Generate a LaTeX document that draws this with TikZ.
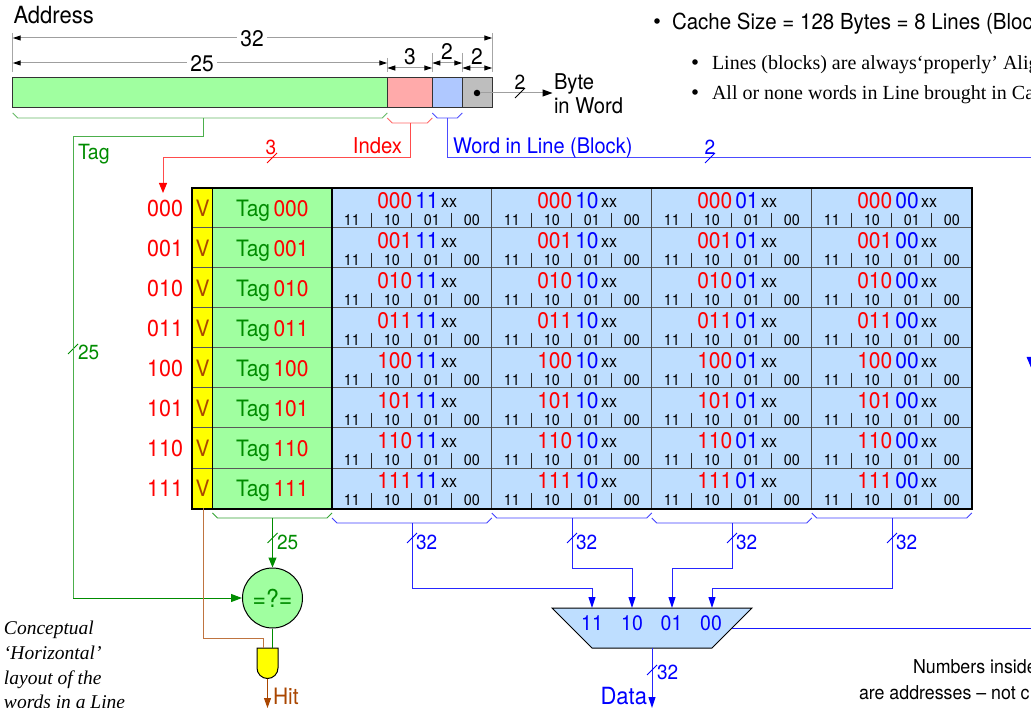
\documentclass[tikz,border=0pt]{standalone}
\usepackage{fontspec}
\setmainfont[FakeStretch=0.93]{TeX Gyre Heros}
\newfontfamily\timesf{Liberation Serif}
\usetikzlibrary{arrows.meta,calc}
\definecolor{cgreen}{RGB}{0,140,0}
\definecolor{cbrown}{RGB}{170,70,0}
\definecolor{fgreen}{RGB}{160,255,160}
\definecolor{fred}{RGB}{255,170,170}
\definecolor{fblue}{RGB}{175,200,255}
\definecolor{fcell}{RGB}{190,222,255}
\definecolor{fgray}{RGB}{190,190,190}
\definecolor{fyell}{RGB}{255,255,0}
\newcommand{\fs}[1]{\pgfmathsetmacro{\fsz}{#1*1.075}\fontsize{\fsz}{\fsz}\selectfont}
\newcommand{\ft}[1]{\fontsize{#1}{#1}\selectfont}
\tikzset{
  txt/.style={inner sep=0pt,outer sep=0pt,anchor=base west,yshift=-0.7pt},
  txtc/.style={inner sep=0pt,outer sep=0pt,anchor=base,yshift=-0.7pt},
  wire/.style={line width=1pt},
  dimln/.style={line width=1pt,draw=gray!75},
  dimarr/.style={dimln,{Triangle[length=8pt,width=5pt,color=black]}-{Triangle[length=8pt,width=5pt,color=black]}},
  ext/.style={line width=.9pt,draw=gray!70},
  field/.style={draw=black!80,line width=.9pt},
  brc/.style={line width=.9pt,line join=miter},
  bl/.style={wire,draw=blue!85,-{Triangle[length=11pt,width=7pt,color=blue]}},
}
\newcommand{\slashmark}[3]{\draw[line width=.8pt,#3] ($(#1,#2)+(-5,5)$) -- ($(#1,#2)+(5,-5)$);}
\newcommand{\bracepath}[5]{\draw[brc,#5] (#1,#3) -- (#1+5,#4) -- (#2-5,#4) -- (#2,#3);}
\begin{document}
\begin{tikzpicture}[x=1pt,y=-1pt]
\useasboundingbox (0,0) rectangle (1031,708);
\clip (0,0) rectangle (1031,708);
\fill[white] (0,0) rectangle (1031,708);

% ---------- address bar
\node[txt,font=\fs{22}] (addr) at (13.5,23) {Address};
\draw[field,fill=fgreen] (12.7,77.8) rectangle (387.3,107.6);
\draw[field,fill=fred]   (387.3,77.8) rectangle (432.3,107.6);
\draw[field,fill=fblue]  (432.3,77.8) rectangle (462.3,107.6);
\draw[field,fill=fgray]  (462.3,77.8) rectangle (492.3,107.6);
\coordinate (tagtop) at (203,118);
\coordinate (idxtop) at (410,123);
\coordinate (wrdtop) at (447,118);
\foreach \nm/\x/\ya in {e0/12.7/33,e1/387.3/58,e2/432.3/53,e3/462.3/53,e4/492.3/33}{
  \draw[ext] (\x,\ya) -- (\x,72);
}
\draw[dimarr] (12.7,38) -- (492.3,38);
\draw[dimarr] (12.7,63) -- (387.3,63);
\draw[dimarr] (387.3,68) -- (432.3,68);
\draw[dimarr] (432.3,63) -- (462.3,63);
\draw[dimarr] (462.3,68) -- (492.3,68);
\node[txtc,font=\fs{21},fill=white,inner xsep=3pt,inner ysep=1pt] (d32) at (252,46) {32};
\node[txtc,font=\fs{21},fill=white,inner xsep=3pt,inner ysep=1pt] (d25) at (202,71) {25};
\node[txtc,font=\fs{21}] (d3) at (410,64) {3};
\node[txtc,font=\fs{21}] (d2a) at (447,59) {2};
\node[txtc,font=\fs{21}] (d2b) at (477,64) {2};

% ---------- byte in word
\node[circle,fill=black,inner sep=0pt,minimum size=6.5pt] (dot) at (477,93) {};
\node[txt,font=\fs{20.2}] (byte) at (554,89) {Byte};
\node[txt,font=\fs{20.2}] (inw) at (554,113) {in Word};
\coordinate (bytein) at (552.5,93);
\draw[line width=1pt,draw=gray!75,-{Triangle[length=10pt,width=7pt,color=black]}] (dot) -- (bytein);
\slashmark{520}{93}{black}
\node[txtc,font=\fs{19}] (b2) at (520,89) {2};

% ---------- top notes
\node[txt,font=\fs{20.5}] (cs) at (672,29) {Cache Size = 128 Bytes = 8 Lines (Block};
\fill[black] (657,21) circle (2.8);
\node[txt,font=\timesf\ft{20}] (n1) at (712,68.5) {Lines (blocks) are always‘properly’ Alig};
\node[txt,font=\timesf\ft{20}] (n2) at (712,98.5) {All or none words in Line brought in Ca};
\fill[black] (695,62) circle (2.8);
\fill[black] (695,92) circle (2.8);

% ---------- address braces and buses
\bracepath{12.7}{387.3}{113}{118}{cgreen!60}
\bracepath{387.3}{432.3}{118}{123}{red!60}
\bracepath{432.3}{462.3}{113}{118}{blue!70}

\coordinate (tagbend1) at (203,137);
\coordinate (tagbend2) at (73,137);
\coordinate (tagbend3) at (73,598);
\node[txt,font=\fs{19.5},text=cgreen] (taglbl) at (78,159) {Tag};
\node[txt,font=\fs{19},text=cgreen] (l25a) at (78,359) {25};
\slashmark{73}{349}{cgreen}

\coordinate (idxb1) at (410,158);
\coordinate (idxb2) at (163,158);
\coordinate (idxend) at (163,193);
\draw[wire,draw=red!70,-{Triangle[length=10pt,width=8pt,color=red]}] (idxtop) -- (idxb1) -- (idxb2) -- (idxend);
\node[txt,font=\fs{20.3},text=red,anchor=base east] (idxlbl) at (402,153) {Index};
\slashmark{272}{158}{red}
\node[txtc,font=\fs{19},text=red] (idx3) at (271,154) {3};

\coordinate (wb1) at (447,158);
\coordinate (wb2) at (1031.2,158);
\coordinate (wend) at (1031.2,368);
\draw[wire,draw=blue!70,-{Triangle[length=11pt,width=9pt,color=blue]}] (wrdtop) -- (wb1) -- (wb2) -- (wend);
\node[txt,font=\fs{20},text=blue] (wlbl) at (453,153) {Word in Line (Block)};
\slashmark{710}{158}{blue}
\node[txtc,font=\fs{19},text=blue] (w2) at (710,154) {2};

% ---------- table
\fill[fgreen] (212.4,188) rectangle (332,508.5);
\fill[fyell] (192.4,188) rectangle (212.4,508.5);
\fill[fcell] (332,188) rectangle (971.8,508.5);
\foreach \i/\b in {0/000,1/001,2/010,3/011,4/100,5/101,6/110,7/111}{
  \pgfmathsetmacro{\yy}{188+40*\i}
  \node[txt,font=\fs{21.5},text=red,anchor=base east] (idx\b) at (183,\yy+28) {\b};
  \node[txtc,font=\fs{21},text=cbrown] (v\b) at (202.5,\yy+28) {V};
  \node[txt,font=\fs{21}] (tag\b) at (236,\yy+28) {\textcolor{cgreen}{Tag}\hspace{3.5pt}\textcolor{red}{\b}};
  \foreach \c/\w in {0/11,1/10,2/01,3/00}{
    \pgfmathsetmacro{\xx}{331.8+160*\c}
    \node[txt] (a\b\w) at (\xx+45.5,\yy+20) {\fs{21}\textcolor{red}{\b}\hspace{3pt}\textcolor{blue}{\w}\hspace{2.5pt}\raisebox{1.6pt}{\fs{16}xx}};
    \foreach \k/\s in {0/11,1/10,2/01,3/00}{
      \node[txtc,font=\fs{14.4}] (s\b\w\s) at (\xx+20+40*\k,\yy+37) {\s};
    }
    \foreach \k in {1,2,3}{
      \draw[line width=.7pt,black!85] (\xx+40*\k,\yy+25) -- (\xx+40*\k,\yy+40);
    }
  }
  \ifnum\i>0 \draw[line width=1pt,black!65] (192.4,\yy) -- (971.8,\yy); \fi
}
\foreach \x in {491.8,651.8,811.8}{ \draw[line width=.8pt,black!70] (\x,188) -- (\x,508); }
\draw[line width=1pt,black] (212.4,188) -- (212.4,508);
\draw[line width=1.4pt,black] (332,188) -- (332,508);
\draw[line width=2pt,black] (192.4,188) rectangle (971.8,508.5);

% ---------- lower braces
\bracepath{212.4}{332}{513}{518}{cgreen!80}
\bracepath{332}{491.8}{518}{523}{blue!75}
\bracepath{491.8}{651.8}{513}{518}{blue!75}
\bracepath{651.8}{811.8}{518}{523}{blue!75}
\bracepath{811.8}{971.8}{513}{518}{blue!75}

% ---------- comparator
\node[circle,draw=black,line width=1pt,fill=fgreen,minimum size=60pt,inner sep=0pt,font=\fs{23},text=cgreen] (cmp) at (272.5,598) {=?=};
\coordinate (t25) at (272.5,518);
\draw[wire,draw=cgreen,-{Triangle[length=10pt,width=8pt,color=cgreen]}] (t25) -- (cmp.north);
\slashmark{272.5}{538}{cgreen}
\node[txt,font=\fs{19},text=cgreen] (l25b) at (277,549) {25};
\draw[wire,draw=cgreen!70] (tagtop) -- (tagbend1) -- (tagbend2) -- (tagbend3);
\draw[wire,draw=cgreen,-{Triangle[length=11pt,width=8pt,color=cgreen]}] (tagbend3) -- (cmp.west);

% ---------- AND gate
\coordinate (gtl) at (257,648);
\coordinate (gtr) at (278,648);
\draw[line width=1pt,fill=fyell,draw=black] (gtl) -- (gtr) -- (278,668) arc (0:180:10.5) -- cycle;
\coordinate (gl) at (263,648);
\coordinate (gr) at (272.5,648);
\coordinate (vbot) at (203,508);
\coordinate (vb1) at (203,638);
\coordinate (vb2) at (263,638);
\draw[wire,draw=cbrown!75] (vbot) -- (vb1) -- (vb2) -- (gl);
\draw[wire,draw=cgreen] (cmp.south) -- (gr);
\coordinate (gout) at (267.5,678.5);
\coordinate (hitend) at (267.5,708);
\draw[wire,draw=cbrown,-{Triangle[length=10pt,width=7pt,color=cbrown]}] (gout) -- (hitend);
\node[txt,font=\fs{21},text=cbrown] (hit) at (273,704) {Hit};

% ---------- mux
\coordinate (m1) at (552,608); \coordinate (m2) at (752,608);
\coordinate (m3) at (712,648); \coordinate (m4) at (592,648);
\draw[line width=1pt,fill=fcell,draw=black] (m1) -- (m2) -- (m3) -- (m4) -- cycle;
\foreach \x/\w in {592/11,632/10,671.5/01,711/00}{
  \node[txtc,font=\fs{19.5},text=blue] (mx\w) at (\x,630) {\w};
}
\draw[bl] (412,523) -- (412,588) -- (592,588) -- (592,608);
\draw[bl] (572,518) -- (572,568) -- (632,568) -- (632,608);
\draw[bl] (732,523) -- (732,568) -- (672,568) -- (672,608);
\draw[bl] (892,518) -- (892,588) -- (712,588) -- (712,608);
\foreach \x/\nm in {412/a,572/b,732/c,892/d}{
  \slashmark{\x}{538}{blue}
  \node[txt,font=\fs{19},text=blue] (l32\nm) at (\x+4,549) {32};
}
\coordinate (mr) at (732,628);
\coordinate (mout) at (1035,628);
\draw[wire,draw=blue!90] (mr) -- (mout);
\coordinate (mb) at (652,648);
\coordinate (mdata) at (652,708);
\draw[bl] (mb) -- (mdata);
\slashmark{652}{670}{blue}
\node[txt,font=\fs{19},text=blue] (l32e) at (657,679) {32};
\node[txt,font=\fs{22},text=blue,anchor=base east] (dat) at (647,704) {Data};

% ---------- notes
\node[txt,font=\timesf\itshape\ft{19.5}] (c1) at (4,634) {Conceptual};
\node[txt,font=\timesf\itshape\ft{19.5}] (c2) at (4,659) {‘Horizontal’};
\node[txt,font=\timesf\itshape\ft{19.5}] (c3) at (4,684) {layout of the};
\node[txt,font=\timesf\itshape\ft{19.5}] (c4) at (4,708) {words in a Line};
\node[txt,font=\fs{17.8}] (nn1) at (913,673) {Numbers inside};
\node[txt,font=\fs{17.8}] (nn2) at (859,699) {are addresses -- not c};
\end{tikzpicture}
\end{document}
